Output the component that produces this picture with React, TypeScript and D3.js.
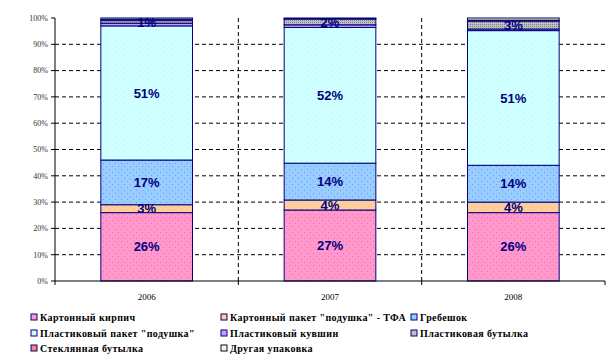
import React from 'react';
import * as d3 from 'd3';

const years = ['2006', '2007', '2008'];

const seriesNames = [
  'Картонный кирпич',
  'Картонный пакет "подушка" - ТФА',
  'Гребешок',
  'Пластиковый пакет "подушка"',
  'Пластиковый кувшин',
  'Пластиковая бутылка',
  'Стеклянная бутылка',
  'Другая упаковка',
];

// share of each packaging type per year, %
const brick = [26, 27, 26];
const pillowTfa = [3, 3.8, 4];
const gable = [17, 14, 14];
const plasticPillow = [51, 51.6, 51.2];
const plasticJug = [1, 1, 0.6];
const plasticBottle = [1, 2.2, 3];
const glassBottle = [0.5, 0.2, 0.4];
const otherPack = [0.5, 0.2, 0.8];

const yTicks = [0, 0.1, 0.2, 0.3, 0.4, 0.5, 0.6, 0.7, 0.8, 0.9, 1];

const colors = ['#FF99CC', '#FFCC99', '#99CCFF', '#CCFFFF', '#CC99FF', '#C0C0C0', '#FF8080', '#FFFF99'];
const dotColors = ['#FF66B2', '#FFE0C0', '#6699FF', '#FFFFFF', '#B380FF', '#808080', '#FF5050', '#FFFFCC'];
const labelled = [0, 1, 2, 3, 5];

const W = 614;
const H = 363;
const left = 55;
const right = 605;
const top = 18;
const bottom = 281;
const serif = { fontFamily: '"Liberation Serif", "DejaVu Serif", serif' };

export default function App() {
  const cols = [brick, pillowTfa, gable, plasticPillow, plasticJug, plasticBottle, glassBottle, otherPack];
  const rows = years.map((y, i) => {
    const r: any = { year: y };
    seriesNames.forEach((n, j) => (r[n] = cols[j][i]));
    return r;
  });

  const stack = d3.stack<any>().keys(seriesNames).offset(d3.stackOffsetExpand);
  const series = stack(rows);

  const x = d3.scaleBand().domain(years).range([left, right]).paddingInner(0.5).paddingOuter(0.25);
  const y = d3.scaleLinear().domain([0, 1]).range([bottom, top]);
  const step = x.step();
  const bounds = d3.range(years.length + 1).map(i => left + i * step);

  const legendCols = [31, 221, 411];
  const legendRows = [317, 333, 348];

  return (
    <svg width={W} height={H} style={{ position: 'absolute', left: 0, top: 0, background: '#fff' }}>
      <defs>
        {colors.map((c, i) => (
          <pattern key={i} id={'p' + i} width={i === 5 ? 2 : 6} height={i === 5 ? 2 : 6} patternUnits="userSpaceOnUse">
            <rect width={6} height={6} fill={c} />
            {i === 5 ? (
              <rect x={0} y={0} width={1} height={1} fill={dotColors[i]} />
            ) : (
              <>
                <rect x={1} y={1} width={1} height={1} fill={dotColors[i]} />
                <rect x={4} y={4} width={1} height={1} fill={dotColors[i]} />
              </>
            )}
          </pattern>
        ))}
      </defs>

      {/* grid */}
      {yTicks.slice(1, -1).map(t => (
        <line key={t} x1={left} x2={right} y1={y(t)} y2={y(t)} stroke="#000" strokeDasharray="4,3" />
      ))}
      {bounds.slice(1, -1).map(b => (
        <line key={b} x1={b} x2={b} y1={top} y2={bottom} stroke="#000" strokeDasharray="4,3" />
      ))}

      {/* bars */}
      {series.map((s, j) => (
        <g key={s.key}>
          {s.map((d, i) => (
            <rect
              key={i}
              x={x(years[i])}
              y={y(d[1])}
              width={x.bandwidth()}
              height={y(d[0]) - y(d[1])}
              fill={`url(#p${j})`}
              stroke="#000080"
              strokeWidth={1}
            />
          ))}
        </g>
      ))}

      {/* labels */}
      {series.map((s, j) =>
        labelled.includes(j)
          ? s.map((d, i) => (
              <text
                key={s.key + i}
                x={x(years[i])! + x.bandwidth() / 2}
                y={(y(d[0]) + y(d[1])) / 2}
                dy="0.36em"
                textAnchor="middle"
                style={{ fontFamily: '"Liberation Sans", Arial, sans-serif' }}
                fontWeight="bold"
                fontSize={13}
                fill="#000080"
              >
                {Math.round((d[1] - d[0]) * 100) + '%'}
              </text>
            ))
          : null
      )}

      {/* axes */}
      <line x1={left} x2={left} y1={top} y2={bottom} stroke="#000" />
      <line x1={left} x2={right} y1={bottom} y2={bottom} stroke="#000" />
      {yTicks.map(t => (
        <g key={t}>
          <line x1={left - 4} x2={left} y1={y(t)} y2={y(t)} stroke="#000" />
          <text x={left - 7} y={y(t)} dy="0.35em" textAnchor="end" style={serif} fontSize={8} fill="#333">
            {Math.round(t * 100) + '%'}
          </text>
        </g>
      ))}
      {bounds.map(b => (
        <line key={b} x1={b} x2={b} y1={bottom} y2={bottom + 4} stroke="#000" />
      ))}
      {years.map(yr => (
        <text
          key={yr}
          x={x(yr)! + x.bandwidth() / 2}
          y={297}
          dy="0.35em"
          textAnchor="middle"
          style={serif}
          fontSize={9}
          fill="#000"
        >
          {yr}
        </text>
      ))}

      {/* legend */}
      {seriesNames.map((n, j) => {
        const lx = legendCols[j % 3];
        const ly = legendRows[Math.floor(j / 3)];
        return (
          <g key={n}>
            <rect x={lx} y={ly - 3} width={6} height={6} fill={colors[j]} stroke="#000080" />
            <text
              x={lx + 9}
              y={ly}
              dy="0.35em"
              style={serif}
              fontWeight="bold"
              fontSize={10}
              letterSpacing={0.4}
              fill="#000"
            >
              {n}
            </text>
          </g>
        );
      })}
    </svg>
  );
}
